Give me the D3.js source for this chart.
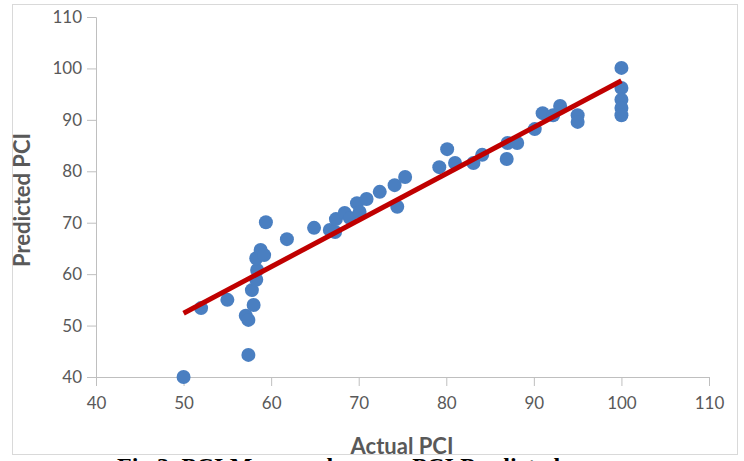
<!DOCTYPE html>
<html lang="en">
<head>
<meta charset="UTF-8">
<title>PCI Measured vs Predicted</title>
<style>
  body { margin: 0; background: #fff; }
  .tick text { font-family: Lato, sans-serif; font-size: 17px; fill: #595959; }
  .axis-title { font-family: Lato, sans-serif; font-weight: 700; font-size: 22px; fill: #595959; text-anchor: middle; }
  .caption { font-family: "Liberation Serif", serif; font-weight: 700; font-size: 24px; fill: #000; }
</style>
</head>
<body>
<svg id="chart" width="744" height="461"></svg>
<script src="https://d3js.org/d3.v7.min.js"></script>
<script>
// Actual vs predicted PCI
const actualPCI = [50, 52, 55, 57.1, 57.4, 57.4, 57.8, 58, 58.3, 58.4, 58.3, 58.8, 59.2, 59.4,
  61.8, 64.9, 66.7, 67.3, 67.4, 68.4, 69, 69.8, 70.1, 70.9, 72.4, 74.1, 74.4, 75.3,
  79.2, 80.1, 81, 83.1, 84.1, 86.9, 87, 88.1, 90.1, 91, 92.2, 93, 95, 95,
  100, 100, 100, 100, 100];
const predictedPCI = [40, 53.4, 55, 51.9, 51.1, 44.3, 56.9, 54, 58.9, 60.8, 63.1, 64.7, 63.7, 70.1,
  66.8, 69, 68.6, 68.2, 70.7, 71.9, 70.9, 73.8, 72.1, 74.6, 76, 77.3, 73.1, 78.9,
  80.8, 84.3, 81.6, 81.6, 83.2, 82.4, 85.5, 85.5, 88.2, 91.3, 90.9, 92.7, 90.9, 89.6,
  100.1, 96.2, 93.9, 92.3, 90.9];
const trendX = [50, 100];
const trendY = [52.4, 97.6];
const xTicks = [40, 50, 60, 70, 80, 90, 100, 110];
const yTicks = [40, 50, 60, 70, 80, 90, 100, 110];

const svg = d3.select("#chart");

// light chart frame
svg.append("rect")
  .attr("x", 12.5).attr("y", 4.5)
  .attr("width", 725).attr("height", 450)
  .attr("fill", "#fff").attr("stroke", "#d9d9d9");

const x = d3.scaleLinear().domain([40, 110]).range([96, 709]);
const y = d3.scaleLinear().domain([40, 110]).range([377, 17]);

const xAxis = svg.append("g")
  .attr("transform", "translate(0,377)")
  .call(d3.axisBottom(x).tickValues(xTicks).tickSize(9).tickPadding(11));
const yAxis = svg.append("g")
  .attr("transform", "translate(96,0)")
  .call(d3.axisLeft(y).tickValues(yTicks).tickSize(9).tickPadding(5));
[xAxis, yAxis].forEach(a => {
  a.select(".domain").attr("stroke", "#bfbfbf");
  a.selectAll(".tick line").attr("stroke", "#bfbfbf");
});

// points
const pts = actualPCI.map((v, i) => ({ a: v, p: predictedPCI[i] }));
svg.append("g").selectAll("circle")
  .data(pts).enter().append("circle")
  .attr("cx", d => x(d.a))
  .attr("cy", d => y(d.p))
  .attr("r", 7)
  .attr("fill", "#4a7fc1");

// trend line
svg.append("path")
  .datum(trendX.map((v, i) => [v, trendY[i]]))
  .attr("d", d3.line().x(d => x(d[0])).y(d => y(d[1])))
  .attr("stroke", "#c00000")
  .attr("stroke-width", 5)
  .attr("fill", "none");

// axis titles
svg.append("text").attr("class", "axis-title")
  .attr("x", 402).attr("y", 454)
  .text("Actual PCI");
svg.append("text").attr("class", "axis-title")
  .attr("transform", "translate(30,200) rotate(-90)")
  .text("Predicted PCI");

// caption, cut by the bottom of the picture
svg.append("text").attr("class", "caption")
  .attr("x", 117).attr("y", 474)
  .attr("textLength", 443)
  .text("Fig 3. PCI Measured versus PCI Predicted");
</script>
</body>
</html>
